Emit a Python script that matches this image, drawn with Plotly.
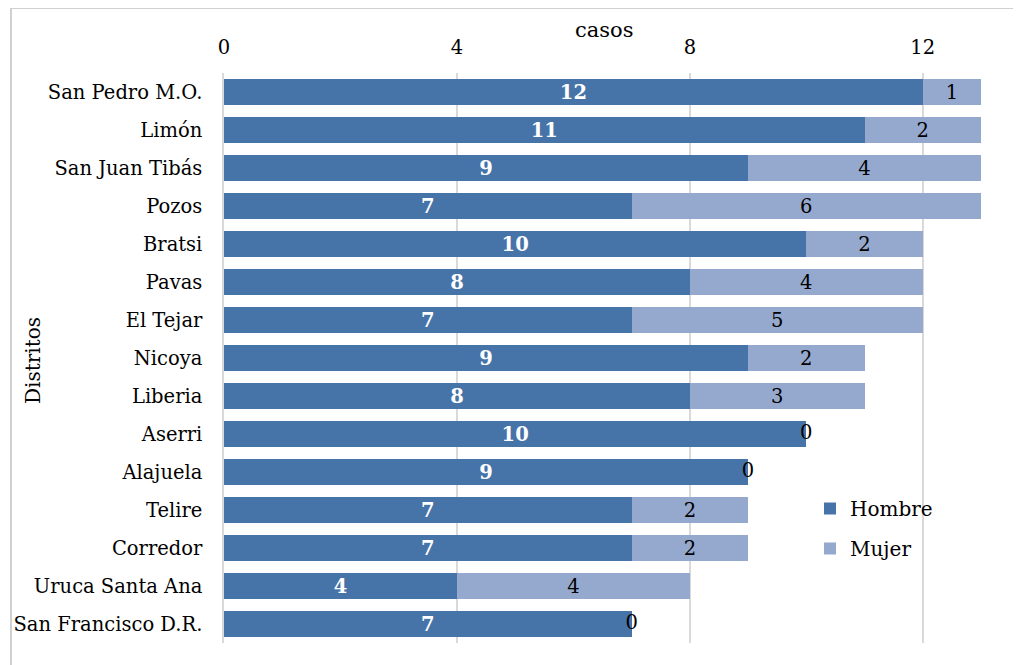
import plotly.graph_objects as go

categorias = ["San Pedro M.O.", "Limón", "San Juan Tibás", "Pozos", "Bratsi", "Pavas",
              "El Tejar", "Nicoya", "Liberia", "Aserri", "Alajuela", "Telire",
              "Corredor", "Uruca Santa Ana", "San Francisco D.R."]
hombre = [12, 11, 9, 7, 10, 8, 7, 9, 8, 10, 9, 7, 7, 4, 7]
mujer = [1, 2, 4, 6, 2, 4, 5, 2, 3, 0, 0, 2, 2, 4, 0]
ticks = [0, 4, 8, 12]

FONT = "DejaVu Serif"
FS = 19.5
C_H = "#4673a8"
C_M = "#95a9cf"

fig = go.Figure()
fig.add_trace(go.Bar(
    y=categorias, x=hombre, name="Hombre", orientation="h", legendgroup="h",
    marker=dict(color=C_H, line=dict(width=0)),
    text=[str(v) for v in hombre], textposition="inside", insidetextanchor="middle",
    textangle=0, constraintext="none",
    textfont=dict(family=FONT, size=FS, color="white", weight="bold"),
))
fig.add_trace(go.Bar(
    y=categorias, x=mujer, name="Mujer", orientation="h", legendgroup="m",
    marker=dict(color=C_M, line=dict(width=0)),
    text=[str(v) if v > 0 else "" for v in mujer], textposition="inside", insidetextanchor="middle",
    textangle=0, constraintext="none",
    textfont=dict(family=FONT, size=FS, color="black"),
))
# zero labels for Mujer at the end of the stack
zx = [h + m for h, m in zip(hombre, mujer) if m == 0]
zy = [c for c, m in zip(categorias, mujer) if m == 0]
fig.add_trace(go.Scatter(
    x=zx, y=zy, mode="text", text=["0"] * len(zx), textposition="middle center",
    textfont=dict(family=FONT, size=FS, color="black"), showlegend=False,
    hoverinfo="skip", cliponaxis=False,
))

OFF = 8  # default body margin of the page
W, H = 1021 - OFF, 665 - OFF
L, T = 224 - OFF, 73 - OFF
R, B = W - (981 - OFF), H - (643 - OFF)
pw, ph = W - L - R, H - T - B

def px_x(x):
    return (x - OFF - L) / pw

def px_y(y):
    return 1 - (y - OFF - T) / ph

fig.update_layout(
    width=W, height=H, barmode="stack", bargap=0.34,
    margin=dict(l=L, r=R, t=T, b=B, autoexpand=False),
    paper_bgcolor="white", plot_bgcolor="white",
    font=dict(family=FONT, size=FS, color="black"),
    showlegend=True,
    legend=dict(x=px_x(810), y=px_y(489), xanchor="left", yanchor="top",
                font=dict(family=FONT, size=20), traceorder="grouped", tracegroupgap=11,
                bgcolor="rgba(0,0,0,0)"),
    xaxis=dict(side="top", range=[0, 13], tickvals=ticks, ticktext=[str(t) for t in ticks],
               showgrid=True, gridcolor="#d9d9d9", gridwidth=1.5, zeroline=False, automargin=False,
               showline=False, ticks="", tickfont=dict(family=FONT, size=FS), ticklabelstandoff=14),
    yaxis=dict(autorange=False, range=[len(categorias) - 0.5, -0.5], showgrid=False,
               showline=True, linecolor="#d9d9d9", automargin=False,
               linewidth=1.5, ticks="", tickfont=dict(family=FONT, size=FS), ticklabelstandoff=16),
    annotations=[
        dict(text="casos", xref="paper", yref="paper", x=px_x(604), y=px_y(30),
             xanchor="center", yanchor="middle", showarrow=False,
             font=dict(family=FONT, size=21)),
        dict(text="Distritos", xref="paper", yref="paper", x=px_x(33), y=px_y(361),
             xanchor="center", yanchor="middle", showarrow=False, textangle=-90,
             font=dict(family=FONT, size=20)),
    ],
    shapes=[
        dict(type="line", xref="paper", yref="paper", x0=px_x(11), x1=px_x(1030),
             y0=px_y(8), y1=px_y(8), line=dict(color="#d0d0d0", width=2)),
        dict(type="line", xref="paper", yref="paper", x0=px_x(11), x1=px_x(11),
             y0=px_y(8), y1=px_y(680), line=dict(color="#d0d0d0", width=2)),
    ],
)

fig.write_html("out.html")
